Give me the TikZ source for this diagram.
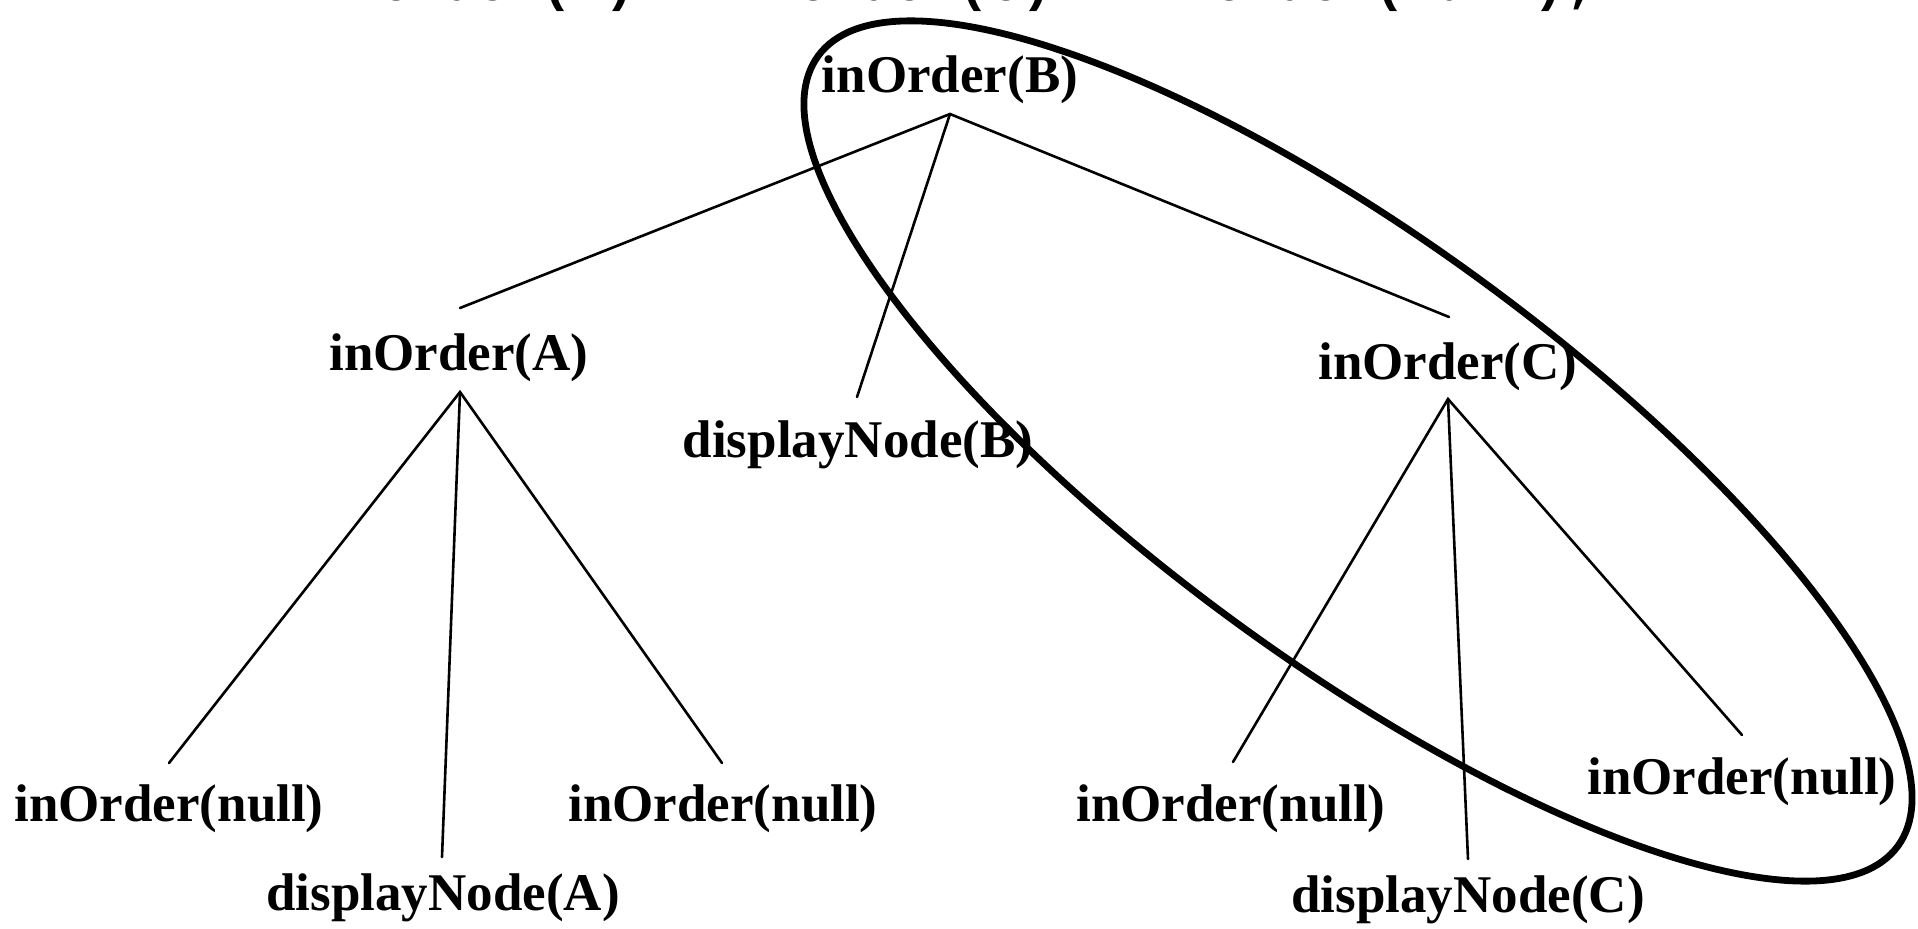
\documentclass[tikz,border=0pt]{standalone}
\usepackage{fontspec}
\setmainfont{Liberation Serif}
\newfontfamily\codefont{Liberation Mono}
\usetikzlibrary{calc}

\begin{document}
\begin{tikzpicture}[x=0.5pt,y=-0.5pt,
  call/.style={font=\fontsize{26.5}{30}\selectfont\bfseries, inner sep=0pt, anchor=base},
  edge/.style={line width=1.3pt, line cap=round},
  ring/.style={line width=3.4pt}]
\useasboundingbox (0,0) rectangle (1918,928);
\clip (0,0) rectangle (1918,928);

% expression line running off the top edge
\node[font=\codefont\bfseries\fontsize{26.7}{30}\selectfont, anchor=base west, inner sep=0pt]
  (expr) at (316,0) {inOrder(A) + inOrder(C) + inOrder(null);};

% recursive calls
\node[call] (B)   at (950,92)   {inOrder(B)};
\node[call] (A)   at (459,370)  {inOrder(A)};
\node[call] (dB)  at (858,457)  {displayNode(B)};
\node[call] (C)   at (1448,379) {inOrder(C)};
\node[call] (nA1) at (169,821)  {inOrder(null)};
\node[call] (dA)  at (443,910)  {displayNode(A)};
\node[call] (nA2) at (723,821)  {inOrder(null)};
\node[call] (nC1) at (1231,821) {inOrder(null)};
\node[call] (dC)  at (1468,912) {displayNode(C)};
\node[call] (nC2) at (1742,794) {inOrder(null)};

% branching points under each parent
\coordinate (B-hub) at ($(B.base)+(0,22)$);
\coordinate (A-hub) at ($(A.base)+(1,22)$);
\coordinate (C-hub) at ($(C.base)+(0,20)$);

% attachment points above each child
\coordinate (A-top)   at ($(A.base)+(1,-62)$);
\coordinate (dB-top)  at ($(dB.base)+(-1,-60)$);
\coordinate (C-top)   at ($(C.base)+(1,-62)$);
\coordinate (nA1-top) at ($(nA1.base)+(0,-58)$);
\coordinate (dA-top)  at ($(dA.base)+(-1,-53)$);
\coordinate (nA2-top) at ($(nA2.base)+(-1,-58)$);
\coordinate (nC1-top) at ($(nC1.base)+(2,-59)$);
\coordinate (dC-top)  at ($(dC.base)+(0,-53)$);
\coordinate (nC2-top) at ($(nC2.base)+(0,-59)$);

\draw[edge] (A-top) -- (B-hub) -- (C-top);
\draw[edge] (B-hub) -- (dB-top);
\draw[edge] (nA1-top) -- (A-hub) -- (nA2-top);
\draw[edge] (A-hub) -- (dA-top);
\draw[edge] (nC1-top) -- (C-hub) -- (nC2-top);
\draw[edge] (C-hub) -- (dC-top);

% outline around the right subtree
\coordinate (ring-c) at (1358,451);
\draw[ring, rotate around={-36.2:(ring-c)}] (ring-c) ellipse [x radius=334.5pt, y radius=105.2pt];
\end{tikzpicture}
\end{document}
